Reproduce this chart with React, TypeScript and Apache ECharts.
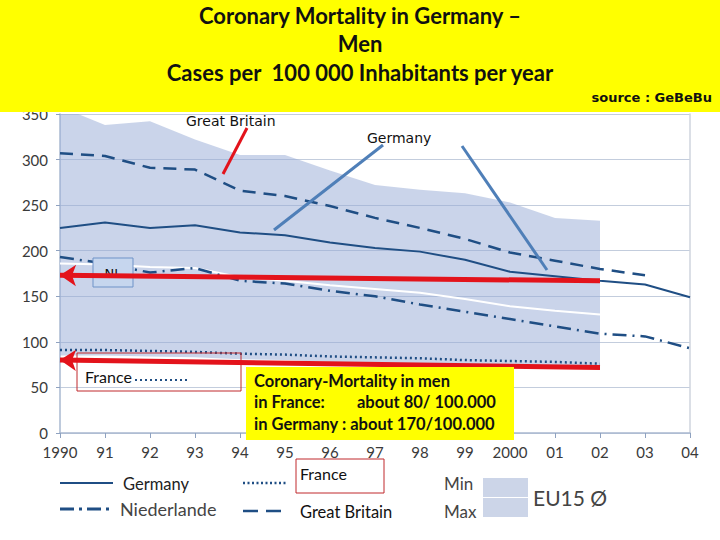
import React, { useEffect, useRef } from "react";
import * as echarts from "echarts";

const years = ["1990", "91", "92", "93", "94", "95", "96", "97", "98", "99", "2000", "01", "02", "03", "04"];
const germany = [225, 231, 225, 228, 220, 217, 209, 203, 199, 190, 177, 172, 167, 163, 149];
const greatBritain = [307, 304, 291, 289, 266, 260, 249, 236, 225, 213, 198, 189, 180, 173, null];
const niederlande = [193, 186, 176, 181, 167, 164, 156, 150, 141, 133, 125, 117, 109, 106, 93];
const france = [91, 91, 90, 89, 87, 86, 84, 83, 82, 80, 79, 78, 76, null, null];
const eu15Avg = [186, 185, 182, 181, 171, 167, 162, 158, 154, 147, 139, 134, 130, null, null];
const eu15Min = [85, 85, 84, 83, 81, 80, 78, 77, 76, 74, 73, 72, 70, null, null];
const eu15Max = [358, 338, 342, 322, 305, 305, 288, 272, 267, 263, 253, 236, 233, null, null];
const yTicks = { min: 0, max: 350, interval: 50 };
// annotation arrows: [value at 1990, value at 02]
const arrowNL = [173, 167];
const arrowFrance = [80, 72];

const LINE = "#1f4e84";
const BAND = "rgba(150,170,214,0.5)";
const RED = "#e3131b";

export default function App() {
  const ref = useRef<HTMLDivElement>(null);
  useEffect(() => {
    document.body.style.margin = "0";
    const chart = echarts.init(ref.current!, undefined, { renderer: "svg" });
    const bandRange = eu15Max.map((v, i) => (v == null || eu15Min[i] == null ? null : (v as number) - (eu15Min[i] as number)));
    const baseLine = { symbol: "none", smooth: false, connectNulls: false };
    const font = "Lato, 'Open Sans', sans-serif";
    const txt = (x: number, y: number, text: string, o: any = {}) => ({
      type: "text",
      x,
      y,
      z: o.z ?? 50,
      style: {
        text,
        fill: o.fill ?? "#111",
        font: `${o.weight ?? "normal"} ${o.size ?? 14}px ${o.family ?? font}`,
        textAlign: o.align ?? "left",
        textVerticalAlign: "middle",
      },
    });
    const seg = (x1: number, y1: number, x2: number, y2: number, stroke: string, lineWidth: number, lineDash?: number[], z = 50) => ({
      type: "line",
      z,
      shape: { x1, y1, x2, y2 },
      style: { stroke, lineWidth, lineDash, lineCap: "butt" },
    });
    const option: any = {
      animation: false,
      backgroundColor: "#fff",
      grid: { left: 60, right: 30, top: 114, bottom: 107, containLabel: false },
      xAxis: {
        type: "category",
        data: years,
        boundaryGap: false,
        axisLine: { lineStyle: { color: "#a9b8d0", width: 1.5 } },
        axisTick: { show: true, length: 5, interval: 0, lineStyle: { color: "#8fa2c0" } },
        axisLabel: { color: "#3a3a3a", fontSize: 15, fontFamily: font, margin: 11, interval: 0 },
        splitLine: { show: false },
      },
      yAxis: [
        {
          type: "value",
          ...yTicks,
          axisLine: { show: true, lineStyle: { color: "#a9b8d0", width: 1.5 } },
          axisTick: { show: true, length: 4, lineStyle: { color: "#8fa2c0" } },
          axisLabel: { color: "#3a3a3a", fontSize: 15, fontFamily: font, margin: 12 },
          splitLine: { show: true, lineStyle: { color: "#c3cddd", width: 1 } },
        },
        {
          type: "value",
          ...yTicks,
          position: "right",
          axisLine: { show: true, lineStyle: { color: "#cfd5de", width: 1.5 } },
          axisTick: { show: false },
          axisLabel: { show: false },
          splitLine: { show: false },
        },
      ],
      series: [
        { ...baseLine, name: "EU15 min", type: "line", stack: "band", data: eu15Min, lineStyle: { width: 0, opacity: 0 }, z: 1 },
        {
          ...baseLine,
          name: "EU15 range",
          type: "line",
          stack: "band",
          data: bandRange,
          lineStyle: { width: 0, opacity: 0 },
          areaStyle: { color: BAND, opacity: 1 },
          z: 1,
        },
        { ...baseLine, name: "EU15 Ø", type: "line", data: eu15Avg, lineStyle: { color: "#ffffff", width: 2 }, z: 2 },
        { ...baseLine, name: "France", type: "line", data: france, lineStyle: { color: LINE, width: 2.5, type: [2, 3] }, z: 3 },
        { ...baseLine, name: "Germany", type: "line", data: germany, lineStyle: { color: LINE, width: 2 }, z: 3 },
        { ...baseLine, name: "Niederlande", type: "line", data: niederlande, lineStyle: { color: LINE, width: 2.5, type: [14, 6, 2, 6] }, z: 3 },
        { ...baseLine, name: "Great Britain", type: "line", data: greatBritain, lineStyle: { color: LINE, width: 2.5, type: [13, 8] }, z: 3 },
        {
          name: "arrows",
          type: "line",
          data: [],
          z: 10,
          markLine: {
            silent: true,
            symbol: ["arrow", "none"],
            symbolSize: [16, 16],
            label: { show: false },
            lineStyle: { color: RED, width: 5, type: "solid", opacity: 1 },
            itemStyle: { color: RED },
            z: 10,
            data: [
              [{ coord: [years[0], arrowNL[0]] }, { coord: [years[12], arrowNL[1]] }],
              [{ coord: [years[0], arrowFrance[0]] }, { coord: [years[12], arrowFrance[1]] }],
            ],
          },
        },
      ],
      graphic: [
        // title banner
        { type: "rect", z: 40, shape: { x: 0, y: 0, width: 720, height: 112 }, style: { fill: "#ffff00" } },
        txt(360, 15, "Coronary Mortality in Germany –", { size: 22, weight: "bold", align: "center" }),
        txt(360, 43, "Men", { size: 22, weight: "bold", align: "center" }),
        txt(360, 72, "Cases per  100 000 Inhabitants per year", { size: 22, weight: "bold", align: "center" }),
        txt(712, 97, "source : GeBeBu", { size: 13, weight: "bold", align: "right", family: "'DejaVu Sans', sans-serif" }),
        // callouts
        txt(186, 121, "Great Britain", { size: 14, family: "'DejaVu Sans', sans-serif" }),
        seg(247, 128, 223, 174, RED, 3),
        txt(367, 138, "Germany", { size: 14, family: "'DejaVu Sans', sans-serif" }),
        seg(383, 145, 274, 230, "#4f7fb8", 3),
        seg(462, 146, 547, 270, "#4f7fb8", 3),
        // NL box
        { type: "rect", z: 5, shape: { x: 93, y: 258, width: 40, height: 29 }, style: { fill: "#c6d6ee", stroke: "#6f93c8", lineWidth: 1 } },
        txt(113, 273, "NL", { size: 13, align: "center", z: 6, family: "'DejaVu Sans', sans-serif" }),
        // France box
        { type: "rect", z: 5, shape: { x: 77, y: 353, width: 164, height: 38 }, style: { fill: "none", stroke: "#c0282d", lineWidth: 1 } },
        txt(85, 376, "France", { size: 16, z: 6 }),
        seg(135, 380, 187, 380, LINE, 2, [2, 3], 6),
        // yellow note
        { type: "rect", z: 40, shape: { x: 246, y: 367, width: 268, height: 73 }, style: { fill: "#ffff00" } },
        txt(254, 381, "Coronary-Mortality in men", { size: 16.5, weight: "bold" }),
        txt(254, 402, "in France:", { size: 16.5, weight: "bold" }),
        txt(357, 402, "about 80/ 100.000", { size: 16.5, weight: "bold" }),
        txt(254, 424, "in Germany : about 170/100.000", { size: 16.5, weight: "bold" }),
        // legend
        seg(60, 483, 113, 483, LINE, 2),
        txt(123, 484, "Germany", { size: 16.5, fill: "#222" }),
        seg(60, 509, 113, 509, LINE, 3, [14, 5, 3, 5]),
        txt(120, 509, "Niederlande", { size: 18, fill: "#444" }),
        seg(243, 483, 287, 483, LINE, 2.5, [2, 2.5]),
        { type: "rect", z: 50, shape: { x: 296, y: 459, width: 88, height: 34 }, style: { fill: "#fff", stroke: "#c0282d", lineWidth: 1 } },
        txt(300, 473, "France", { size: 16, z: 51 }),
        seg(243, 511, 287, 511, LINE, 2.5, [15, 8]),
        txt(300, 512, "Great Britain", { size: 16.5 }),
        txt(444, 483, "Min", { size: 17, fill: "#444" }),
        txt(444, 511, "Max", { size: 17, fill: "#444" }),
        { type: "rect", z: 50, shape: { x: 483, y: 478, width: 45, height: 19 }, style: { fill: "#ccd5e8" } },
        { type: "rect", z: 50, shape: { x: 483, y: 498, width: 45, height: 19 }, style: { fill: "#ccd5e8" } },
        txt(533, 497, "EU15 Ø", { size: 21, fill: "#444" }),
      ],
    };
    chart.setOption(option);
    return () => chart.dispose();
  }, []);
  return <div ref={ref} style={{ width: 720, height: 540 }} />;
}
